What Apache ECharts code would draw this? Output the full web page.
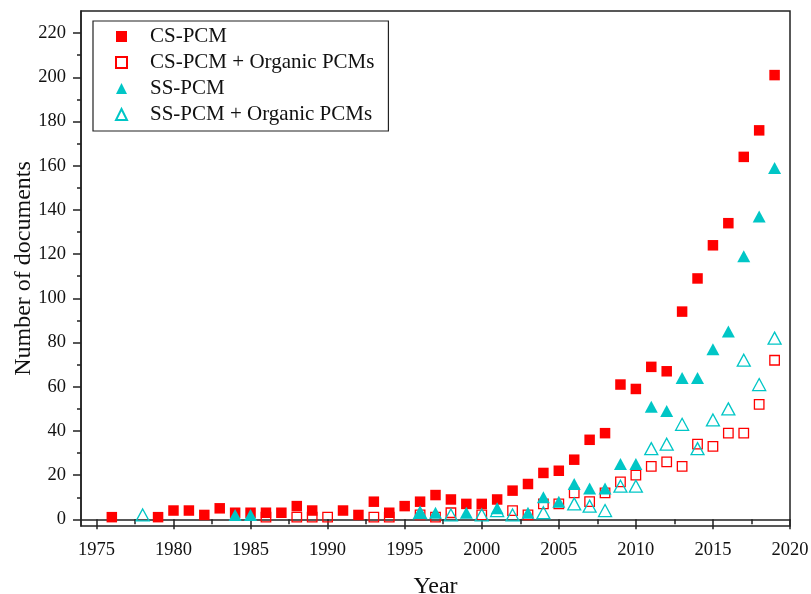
<!DOCTYPE html>
<html>
<head>
<meta charset="utf-8">
<script src="https://cdn.jsdelivr.net/npm/echarts@6/dist/echarts.min.js"></script>
<style>html,body{margin:0;padding:0;background:#fff;}#c{width:811px;height:594px;}</style>
</head>
<body>
<div id="c"></div>
<script>
// ---- data ----
const seriesNames = ['CS-PCM', 'CS-PCM + Organic PCMs', 'SS-PCM', 'SS-PCM + Organic PCMs'];
const csPcm = [[1976,1],[1979,1],[1980,4],[1981,4],[1982,2],[1983,5],[1984,3],[1985,3],[1986,3],[1987,3],[1988,6],[1989,4],[1991,4],[1992,2],[1993,8],[1994,3],[1995,6],[1996,8],[1997,11],[1998,9],[1999,7],[2000,7],[2001,9],[2002,13],[2003,16],[2004,21],[2005,22],[2006,27],[2007,36],[2008,39],[2009,61],[2010,59],[2011,69],[2012,67],[2013,94],[2014,109],[2015,124],[2016,134],[2017,164],[2018,176],[2019,201]];
const csPcmOrganic = [[1986,1],[1988,1],[1989,1],[1990,1],[1993,1],[1994,1],[1996,2],[1997,1],[1998,3],[2000,2],[2002,4],[2003,2],[2004,7],[2005,7],[2006,12],[2007,8],[2008,12],[2009,17],[2010,20],[2011,24],[2012,26],[2013,24],[2014,34],[2015,33],[2016,39],[2017,39],[2018,52],[2019,72]];
const ssPcm = [[1984,2],[1985,2],[1996,3],[1997,3],[1999,3],[2001,5],[2003,3],[2004,10],[2005,8],[2006,16],[2007,14],[2008,14],[2009,25],[2010,25],[2011,51],[2012,49],[2013,64],[2014,64],[2015,77],[2016,85],[2017,119],[2018,137],[2019,159]];
const ssPcmOrganic = [[1978,2],[1996,3],[1998,2],[2000,2],[2001,4],[2002,2],[2004,3],[2006,7],[2007,6],[2008,4],[2009,15],[2010,15],[2011,32],[2012,34],[2013,43],[2014,32],[2015,45],[2016,50],[2017,72],[2018,61],[2019,82]];
const xTickValues = [1975,1980,1985,1990,1995,2000,2005,2010,2015,2020];
const xMinorValues = [1977.5,1982.5,1987.5,1992.5,1997.5,2002.5,2007.5,2012.5,2017.5];
const yTickValues = [0,20,40,60,80,100,120,140,160,180,200,220];
const yMinorValues = [10,30,50,70,90,110,130,150,170,190,210];

// ---- style ----
const FONT = 'Liberation Serif';
const RED = '#FF0000';
const CYAN = '#00C6C6';
const AX = '#222';
const X_MIN = 1974, X_MAX = 2020, Y_MIN = -3, Y_MAX = 230;

const chart = echarts.init(document.getElementById('c'), null, {renderer: 'canvas'});
chart.setOption({
  animation: false,
  backgroundColor: '#fff',
  grid: {left: 81, right: 21, top: 11, bottom: 68, containLabel: false, outerBoundsMode: 'none',
         show: true, borderColor: AX, borderWidth: 1.5, backgroundColor: 'transparent'},
  legend: {
    orient: 'vertical', left: 93, top: 21,
    itemWidth: 11, itemHeight: 11, itemGap: 5,
    padding: [5, 14, 6, 22],
    borderColor: AX, borderWidth: 1.2,
    textStyle: {fontFamily: FONT, fontSize: 21, color: '#111', padding: [0, 0, 0, 18]},
    data: seriesNames
  },
  xAxis: [
    {type: 'value', min: X_MIN, max: X_MAX, position: 'bottom',
     name: 'Year', nameLocation: 'middle', nameGap: 49, nameMoveOverlap: false,
     nameTextStyle: {fontFamily: FONT, fontSize: 24, color: '#111'},
     axisLine: {show: true, lineStyle: {color: AX, width: 1.5}},
     axisTick: {show: true, inside: false, length: 10, customValues: xTickValues, lineStyle: {color: AX, width: 1.5}},
     axisLabel: {show: true, customValues: xTickValues, margin: 15, fontFamily: FONT, fontSize: 18.5, color: '#111',
                 formatter: function (v) { return String(v); }},
     splitLine: {show: false}},
    {type: 'value', min: X_MIN, max: X_MAX, position: 'bottom',
     axisLine: {show: false},
     axisTick: {show: true, inside: false, length: 5, customValues: xMinorValues, lineStyle: {color: AX, width: 1.5}},
     axisLabel: {show: false}, splitLine: {show: false}}
  ],
  yAxis: [
    {type: 'value', min: Y_MIN, max: Y_MAX, position: 'left',
     name: 'Number of documents', nameLocation: 'middle', nameGap: 45, nameMoveOverlap: false,
     nameTextStyle: {fontFamily: FONT, fontSize: 24, color: '#111'},
     axisLine: {show: true, lineStyle: {color: AX, width: 1.5}},
     axisTick: {show: true, inside: false, length: 8, customValues: yTickValues, lineStyle: {color: AX, width: 1.5}},
     axisLabel: {show: true, customValues: yTickValues, margin: 15, fontFamily: FONT, fontSize: 18.5, color: '#111',
                 formatter: function (v) { return String(v); }},
     splitLine: {show: false}},
    {type: 'value', min: Y_MIN, max: Y_MAX, position: 'left',
     axisLine: {show: false},
     axisTick: {show: true, inside: false, length: 4, customValues: yMinorValues, lineStyle: {color: AX, width: 1.5}},
     axisLabel: {show: false}, splitLine: {show: false}}
  ],
  series: [
    {name: seriesNames[0], type: 'scatter', data: csPcm, symbol: 'rect', symbolSize: 10.5,
     itemStyle: {color: RED, opacity: 1}},
    {name: seriesNames[1], type: 'scatter', data: csPcmOrganic, symbol: 'rect', symbolSize: 9.5,
     itemStyle: {color: 'transparent', borderColor: RED, borderWidth: 1.3, opacity: 1}},
    {name: seriesNames[2], type: 'scatter', data: ssPcm, symbol: 'triangle', symbolSize: [13, 12],
     itemStyle: {color: CYAN, opacity: 1}},
    {name: seriesNames[3], type: 'scatter', data: ssPcmOrganic, symbol: 'triangle', symbolSize: [13, 12],
     itemStyle: {color: 'transparent', borderColor: CYAN, borderWidth: 1.3, opacity: 1}}
  ]
});
</script>
</body>
</html>
